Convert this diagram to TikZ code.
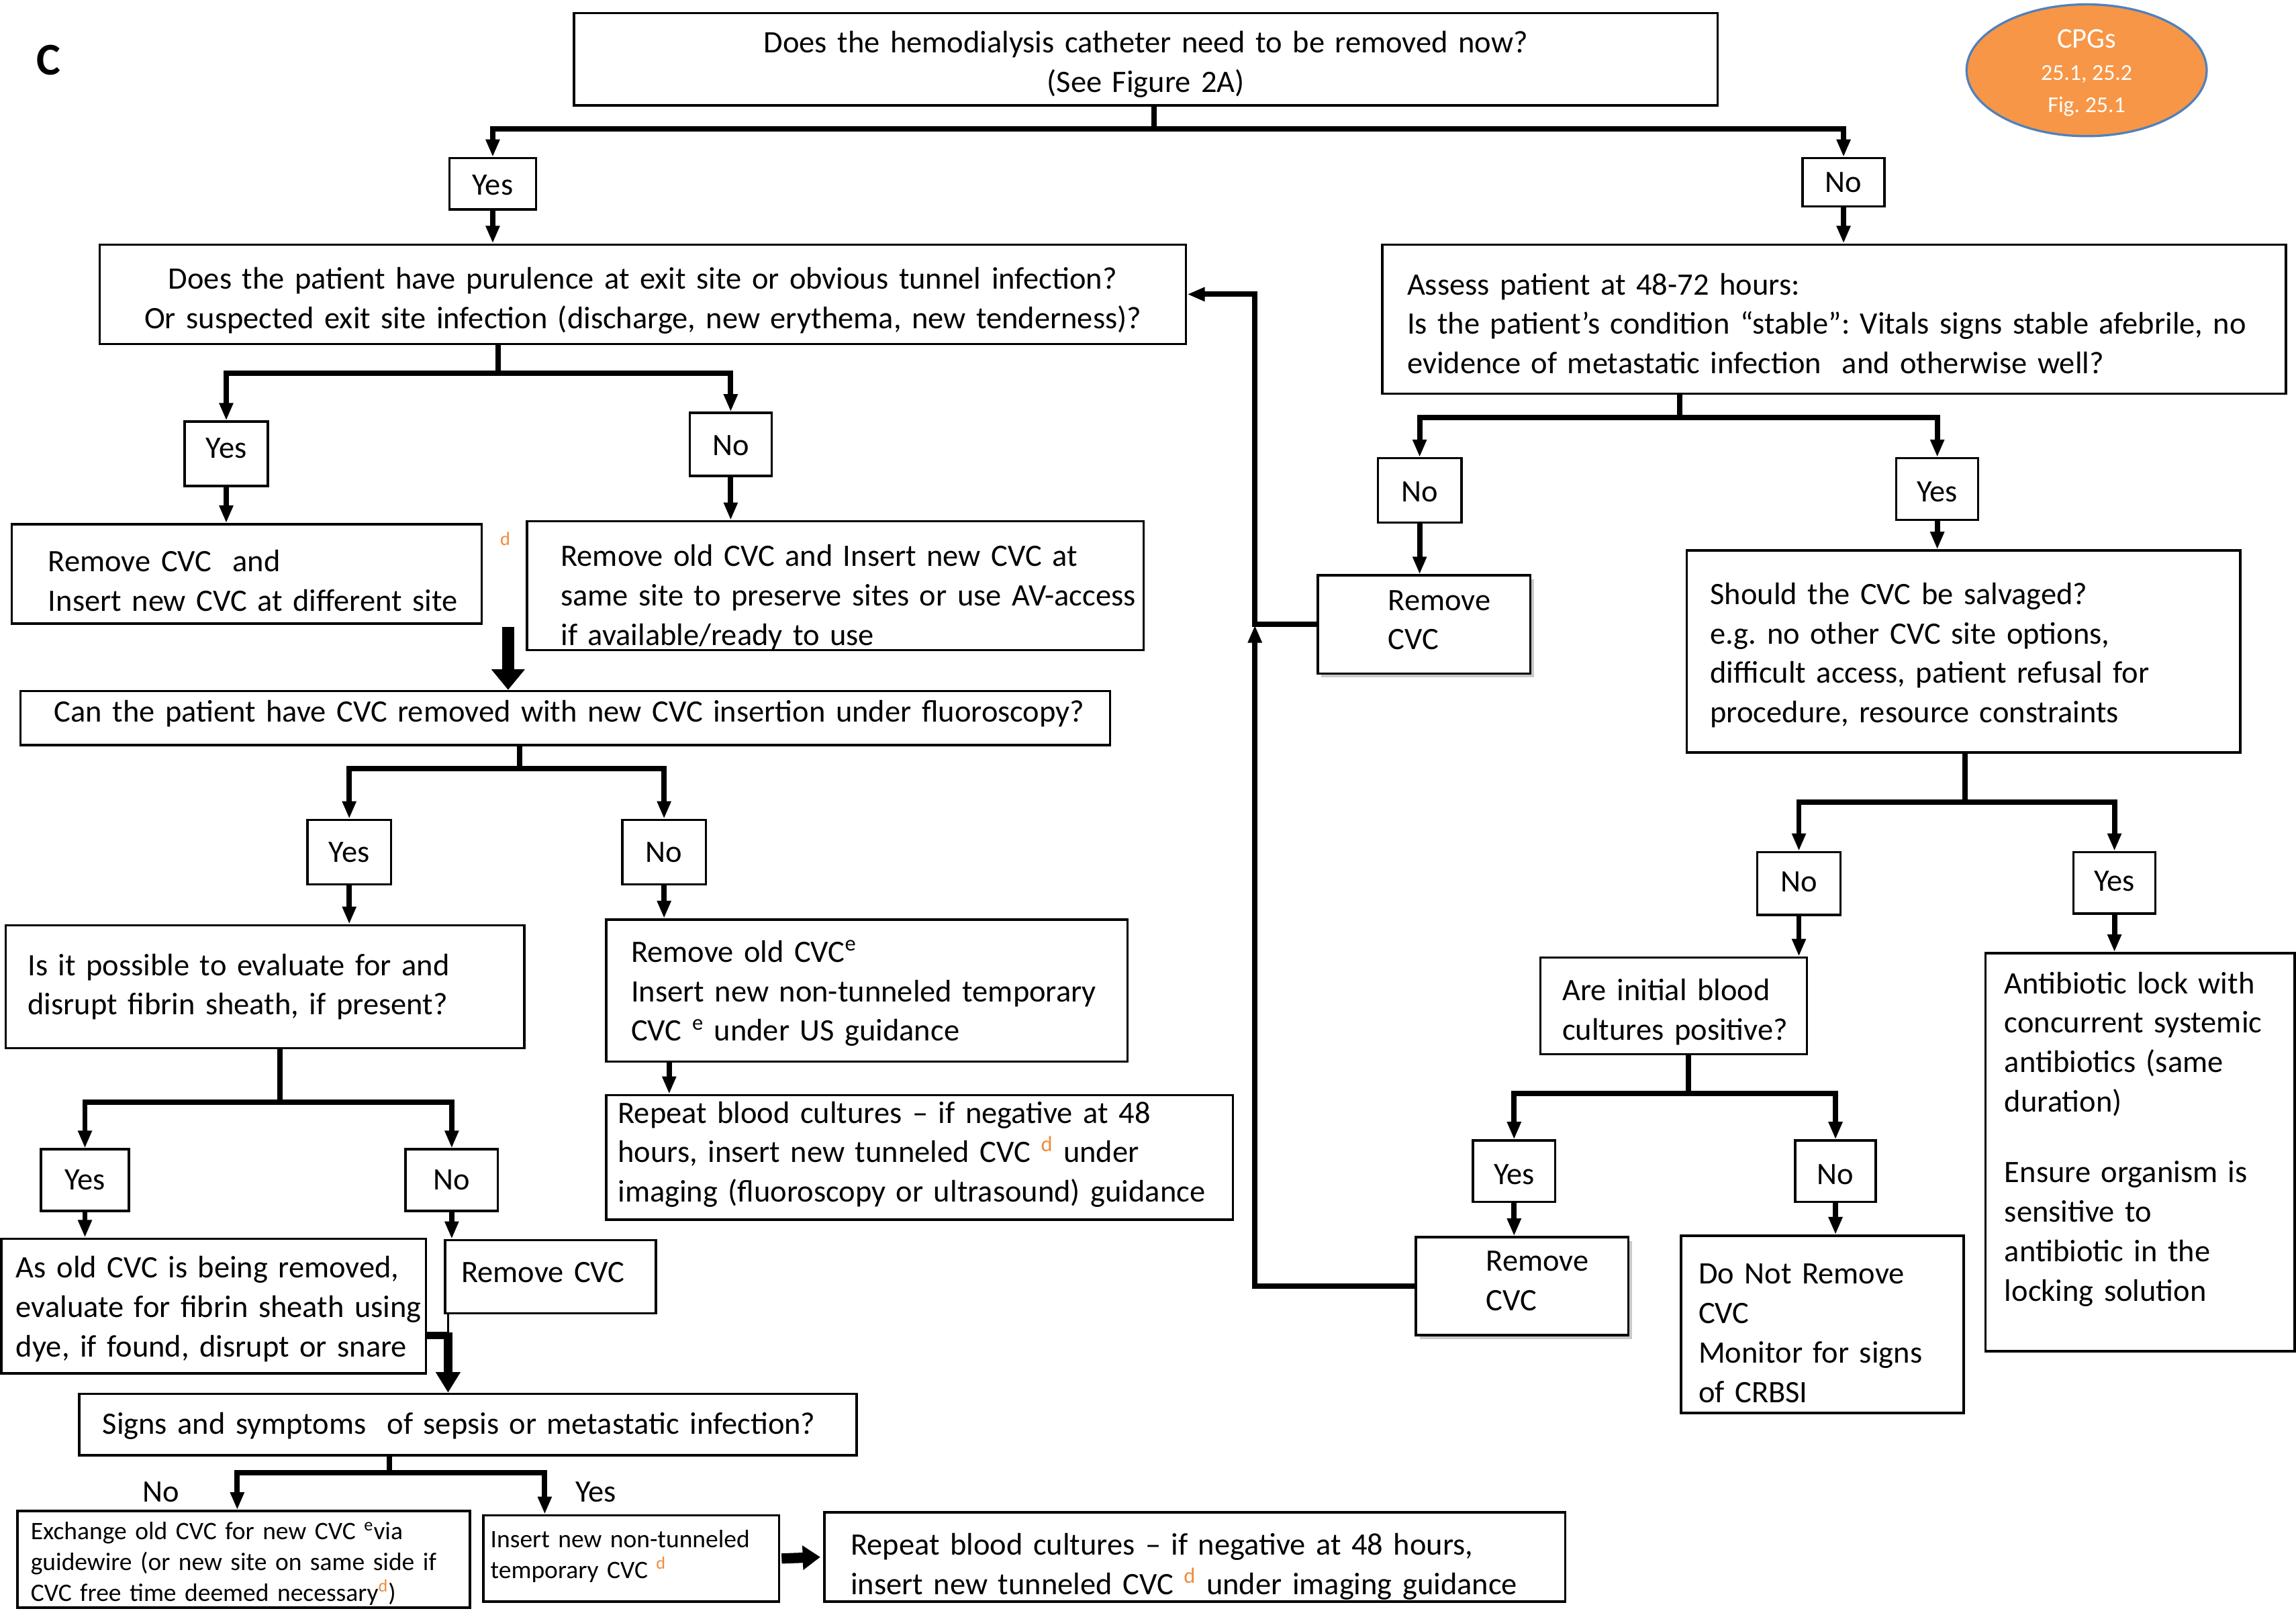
\documentclass[tikz,border=0pt]{standalone}
\usepackage{fontspec}
\setmainfont{Carlito}
\usetikzlibrary{arrows.meta,shapes.geometric,shadows}
\frenchspacing
\definecolor{dorange}{RGB}{240,140,60}
\definecolor{cpgfill}{RGB}{247,150,70}
\definecolor{cpgline}{RGB}{79,129,189}
\newcommand\myfont{\fontsize{21.3}{27}\selectfont\frenchspacing}
\newcommand\mysmall{\fontsize{17.2}{21}\selectfont\frenchspacing}
\newcommand\lne[1]{\mbox{#1}}
\newcommand\sd{\textsuperscript{\textcolor{dorange}{d}}}
\newcommand\se{\textsuperscript{e}}
% name, x1, y1, x2, y2, indent, dy, text options, text
\newcommand\bx[9]{%
 \pgfmathsetmacro\bxw{#4-#2}\pgfmathsetmacro\bxh{#5-#3}\pgfmathsetmacro\bxt{#4-#2-2*#6}%
 \node[box,boxextra,minimum width=\bxw pt,minimum height=\bxh pt] (#1) at ({(#2+#4)/2},{(#3+#5)/2}) {};
 \node[txt,#8,text width=\bxt pt] (#1-t) at ({(#2+#4)/2},{(#3+#5)/2+(#7)}) {#9};}
\newcommand\branch[6]{% parent, x, y, junction name, left target, right target
 \coordinate (#4) at (#2,#3);
 \draw[conn] (#1.south -| #4) -- (#4);
 \draw[arr] (#4) -| (#5);
 \draw[arr] (#4) -| (#6);}
\begin{document}
\begin{tikzpicture}[x=1pt,y=-1pt,
  box/.style={draw,line width=1.6pt,inner sep=0pt},
  boxextra/.style={},
  txt/.style={inner sep=0pt,align=left,font=\myfont},
  cbox/.style={align=center},
  small/.style={font=\mysmall},
  shade/.style={fill=white,drop shadow={shadow xshift=2.5pt,shadow yshift=-2.5pt,fill=black!35,opacity=0.6}},
  conn/.style={line width=3.6pt,line join=miter},
  arr/.style={conn,-{Triangle[length=12pt,width=9pt]}},
  lbl/.style={font=\myfont,inner sep=0pt}]
\useasboundingbox (0,0) rectangle (1568,1100);
\fill[white] (0,0) rectangle (1568,1100);

\node[font=\fontsize{31}{31}\selectfont\bfseries] (lc) at (33,41) {C};
\node[ellipse,draw=cpgline,line width=1.5pt,fill=cpgfill,minimum width=164pt,minimum height=90pt] (cpg) at (1425,48) {};
\node[text=white,align=center,inner sep=0pt,font=\fontsize{15.5}{22}\selectfont] (cpg-t) at (1425,50)
  {{\fontsize{19.5}{22}\selectfont CPGs}\\25.1, 25.2\\Fig. 25.1};

% ---------- boxes ----------
\bx{top}{392}{9}{1173}{72}{0}{3.5}{cbox}{Does the hemodialysis catheter need to be removed now?\\(See Figure 2A)}
\bx{yes0}{307}{108}{366}{143}{0}{1}{cbox}{Yes}
\bx{no0}{1231}{108}{1287}{141}{0}{0}{cbox}{No}
\bx{q1}{68}{167}{810}{235}{0}{4.5}{cbox}{Does the patient have purulence at exit site or obvious tunnel infection?\\Or suspected exit site infection (discharge, new erythema, new tenderness)?}
\bx{yes1}{126}{288}{183}{332}{0}{-4}{cbox}{Yes}
\bx{no1}{471}{282}{527}{325}{0}{1}{cbox}{No}
\bx{b11}{8}{358}{329}{426}{25}{4.5}{}{\lne{Remove CVC\ \ and}\\\lne{Insert new CVC at different site}}
\node[font=\fontsize{13}{13}\selectfont,text=dorange,inner sep=0pt] (dmark) at (345,368) {d};
\bx{b13}{360}{356}{781}{444}{23}{8}{}{\lne{Remove old CVC and Insert new CVC at}\\\lne{same site to preserve sites or use AV-access}\\\lne{if available/ready to use}}
\bx{q2}{14}{472}{758}{509}{23}{-3}{}{\lne{Can the patient have CVC removed with new CVC insertion under fluoroscopy?}}
\bx{yes2}{210}{560}{267}{604}{0}{0}{cbox}{Yes}
\bx{no2}{425}{560}{482}{604}{0}{0}{cbox}{No}
\bx{b19}{4}{632}{358}{716}{15}{0}{}{\lne{Is it possible to evaluate for and}\\\lne{disrupt fibrin sheath, if present?}}
\bx{b20}{414}{628}{770}{725}{17}{2}{}{\lne{Remove old CVC\se}\\\lne{Insert new non-tunneled temporary}\\\lne{CVC \se{} under US guidance}}
\bx{b22}{414}{748}{842}{833}{8}{-2}{}{\lne{Repeat blood cultures – if negative at 48}\\\lne{hours, insert new tunneled CVC \sd{} under}\\\lne{imaging (fluoroscopy or ultrasound) guidance}}
\bx{yes3}{28}{785}{88}{827}{0}{0}{cbox}{Yes}
\bx{no3}{277}{785}{340}{827}{0}{0}{cbox}{No}
\bx{b26}{1}{846}{291}{938}{10}{2}{}{\lne{As old CVC is being removed,}\\\lne{evaluate for fibrin sheath using}\\\lne{dye, if found, disrupt or snare}}
\bx{b27}{304}{847}{448}{897}{11}{-3}{}{\lne{Remove CVC}}
\bx{q3}{54}{952}{585}{994}{16}{1}{}{\lne{Signs and symptoms\ \ of sepsis or metastatic infection?}}
\node[lbl] (lno) at (110,1019) {No};
\node[lbl] (lyes) at (407,1019) {Yes};
\bx{b32}{12}{1032}{321}{1098}{9}{3}{small}{\lne{Exchange old CVC for new CVC \se{}via}\\\lne{guidewire (or new site on same side if}\\\lne{CVC free time deemed necessary\sd)}}
\bx{b33}{330}{1035}{532}{1094}{5}{-1.5}{small}{\lne{Insert new non-tunneled}\\\lne{temporary CVC \sd}}
\bx{b35}{563}{1033}{1069}{1094}{18}{6.5}{}{\lne{Repeat blood cultures – if negative at 48 hours,}\\\lne{insert new tunneled CVC \sd{} under imaging guidance}}

\bx{b36}{944}{167}{1561}{269}{17}{3}{}{\lne{Assess patient at 48-72 hours:}\\\lne{Is the patient’s condition “stable”: Vitals signs stable afebrile, no}\\\lne{evidence of metastatic infection\ \ and otherwise well?}}
\bx{no4}{941}{313}{998}{357}{0}{1}{cbox}{No}
\bx{yes4}{1295}{313}{1351}{355}{0}{2}{cbox}{Yes}
\tikzset{boxextra/.style={shade}}
\bx{rc1}{900}{393}{1045}{460}{48}{-3}{}{\lne{Remove}\\\lne{CVC}}
\bx{rc2}{967}{845}{1112}{912}{48}{-3.5}{}{\lne{Remove}\\\lne{CVC}}
\tikzset{boxextra/.style={}}
\bx{b42}{1152}{376}{1530}{514}{16}{2.5}{}{\lne{Should the CVC be salvaged?}\\\lne{e.g. no other CVC site options,}\\\lne{difficult access, patient refusal for}\\\lne{procedure, resource constraints}}
\bx{no5}{1200}{582}{1257}{625}{0}{-1}{cbox}{No}
\bx{yes5}{1416}{582}{1472}{624}{0}{-1}{cbox}{Yes}
\bx{b46}{1052}{654}{1234}{720}{15}{4}{}{\lne{Are initial blood}\\\lne{cultures positive?}}
\bx{yes6}{1006}{779}{1062}{821}{0}{2}{cbox}{Yes}
\bx{no6}{1226}{779}{1281}{821}{0}{2}{cbox}{No}
\bx{b51}{1148}{844}{1341}{965}{12}{6}{}{\lne{Do Not Remove}\\\lne{CVC}\\\lne{Monitor for signs}\\\lne{of CRBSI}}
\bx{b52}{1356}{651}{1567}{923}{13}{-9}{}{\lne{Antibiotic lock with}\\\lne{concurrent systemic}\\\lne{antibiotics (same}\\\lne{duration)}\\[21pt]\lne{Ensure organism is}\\\lne{sensitive to}\\\lne{antibiotic in the}\\\lne{locking solution}}

% ---------- branches ----------
\branch{top}{788}{88}{j0}{yes0.north}{no0.north}
\branch{q1}{340}{255}{j1}{yes1.north}{no1.north}
\branch{q2}{355}{525}{j2}{yes2.north}{no2.north}
\branch{b19}{191}{753}{j3}{yes3.north}{no3.north}
\branch{q3}{266}{1006}{j4}{b32.north -| 162,0}{b33.north -| 372,0}
\branch{b36}{1147}{285}{j5}{no4.north}{yes4.north}
\branch{b42}{1342}{548}{j6}{no5.north}{yes5.north}
\branch{b46}{1153}{747}{j7}{yes6.north}{no6.north}

% ---------- straight arrows ----------
\draw[arr] (yes0.south) -- (yes0.south |- q1.north);
\draw[arr] (no0.south) -- (no0.south |- b36.north);
\draw[arr] (yes1.south) -- (yes1.south |- b11.north);
\draw[arr] (no1.south) -- (no1.south |- b13.north);
\draw[arr] (yes2.south) -- (yes2.south |- b19.north);
\draw[arr] (no2.south) -- (no2.south |- b20.north);
\draw[arr] (b20.south -| 457,0) -- (b22.north -| 457,0);
\draw[arr] (yes3.south) -- (yes3.south |- b26.north);
\draw[arr] (no3.south) -- (no3.south |- b27.north);
\draw[arr] (no4.south) -- (no4.south |- rc1.north);
\draw[arr] (yes4.south) -- (yes4.south |- b42.north);
\draw[arr] (no5.south) -- (no5.south |- b46.north);
\draw[arr] (yes5.south) -- (yes5.south |- b52.north);
\draw[arr] (yes6.south) -- (yes6.south |- rc2.north);
\draw[arr] (no6.south) -- (no6.south |- b51.north);

% ---------- block arrows ----------
\coordinate (c1) at (347,428);
\draw[line width=8pt,-{Triangle[length=14pt,width=22pt]}] (c1) -- (q2.north -| c1);
\coordinate (c2) at (306,912);
\draw[line width=1.6pt] (b27.south -| c2) -- (c2);
\draw[line width=5pt] (b26.east |- c2) -- (c2);
\draw[line width=6pt,-{Triangle[length=14pt,width=16pt]}] ([yshift=2pt]c2) -- (q3.north -| c2);
\draw[line width=7pt,-{Triangle[length=12pt,width=16pt]}] ([xshift=1pt]b33.east) -- ([xshift=-2pt]b35.west);

% ---------- feedback loop ----------
\coordinate (fb) at (857,427);
\draw[arr] (rc2.west) -| (fb);
\draw[arr] (rc1.west) -| (q1.east -| fb) -- (q1.east);
\end{tikzpicture}
\end{document}
